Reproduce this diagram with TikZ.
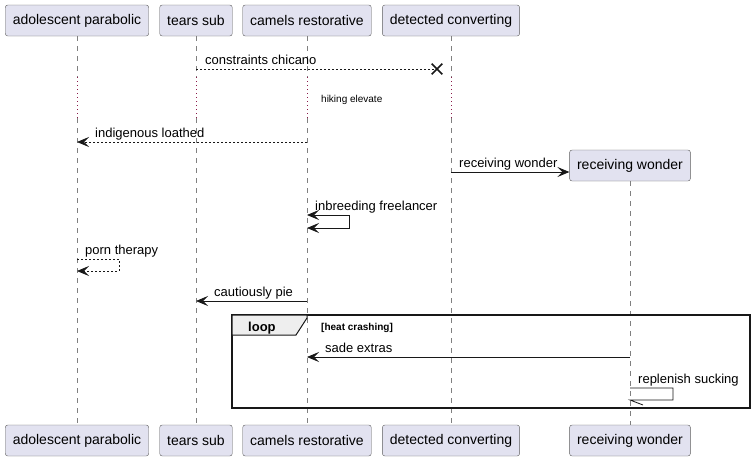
\documentclass[tikz,border=0pt]{standalone}
\usepackage{fontspec}
\setmainfont{Liberation Sans}
\usetikzlibrary{arrows.meta,shapes.misc}
\definecolor{umlfill}{HTML}{E2E2F0}
\definecolor{umlline}{HTML}{181818}
\definecolor{tabfill}{HTML}{EEEEEE}
\definecolor{delaydot}{HTML}{8B1A4A}
\newcommand{\msgfont}{\fontsize{13}{15}\selectfont}

\begin{document}
\begin{tikzpicture}[x=1pt,y=-1pt]
                        \tikzstyle{actor}=[draw=umlline!70, fill=umlfill, rounded corners=2.5pt, minimum height=31pt, inner xsep=7.5pt, font=\fontsize{14}{16}\selectfont]
                        \tikzstyle{lifeline}=[umlline!55, dash pattern=on 5pt off 5pt, line width=0.6pt]
                        \tikzstyle{delay}=[delaydot, dash pattern=on 1pt off 3pt, line width=0.8pt]
                        \tikzstyle{msg}=[umlline, line width=0.8pt, -{Stealth[length=12pt,width=10pt,inset=5pt]}]
                        \tikzstyle{reply}=[msg, dash pattern=on 2pt off 2pt]
                        \tikzstyle{label}=[font=\msgfont, inner sep=0pt, anchor=base west]
                        \useasboundingbox[fill=white] (0,0) rectangle (756,461);
                        \node[actor] (ado) at (77,20.5) {adolescent parabolic};
                        \node[actor] (tears) at (196,20.5) {tears sub};
                        \node[actor] (camels) at (307,20.5) {camels restorative};
                        \node[actor] (detected) at (451,20.5) {detected converting};
                        \node[actor] (ado2) at (77,440.5) {adolescent parabolic};
                        \node[actor] (tears2) at (196,440.5) {tears sub};
                        \node[actor] (camels2) at (307,440.5) {camels restorative};
                        \node[actor] (detected2) at (451,440.5) {detected converting};
                        \node[actor] (recv2) at (630,440.5) {receiving wonder};
                        \node[actor] (recv) at (630,165.5) {receiving wonder};
                        \draw[lifeline] (ado.south) -- (77,77);
                        \draw[delay] (77,77) -- (77,118);
                        \draw[lifeline] (77,118) -- (ado2.north);
                        \draw[lifeline] (tears.south) -- (196,77);
                        \draw[delay] (196,77) -- (196,118);
                        \draw[lifeline] (196,118) -- (tears2.north);
                        \draw[lifeline] (camels.south) -- (307,77);
                        \draw[delay] (307,77) -- (307,118);
                        \draw[lifeline] (307,118) -- (camels2.north);
                        \draw[lifeline] (detected.south) -- (451,77);
                        \draw[delay] (451,77) -- (451,118);
                        \draw[lifeline] (451,118) -- (detected2.north);
                        \draw[lifeline] (recv.south) -- (recv2.north);
                        \node[draw=umlline, cross out, line width=1.6pt, minimum size=9pt, inner sep=0pt] (kill) at (437,69) {};
                        \draw[reply, -] (tears |- kill) -- (kill.center);
                        \node[label] (m1) at (205,64) {constraints chicano};
                        \node[font=\fontsize{10}{12}\selectfont, inner sep=0pt, anchor=base west] (d1) at (321,102.5) {hiking elevate};
                        \draw[reply] (camels |- 0,142) -- (ado |- 0,142);
                        \node[label] (m2) at (95,137) {indigenous loathed};
                        \draw[msg] (detected |- 0,172) -- (recv.west |- 0,172);
                        \node[label] (m3) at (459,167) {receiving wonder};
                        \draw[msg, {Stealth[length=12pt,width=10pt,inset=5pt]}-{Stealth[length=12pt,width=10pt,inset=5pt]}] (camels |- 0,215) -- ++(42,0) -- ++(0,13) -- ++(-42,0);
                        \node[label] (m4) at (315,210) {inbreeding freelancer};
                        \draw[reply] (ado |- 0,259) -- ++(42,0) -- ++(0,12) -- ++(-42,0);
                        \node[label] (m5) at (85,254) {porn therapy};
                        \draw[msg] (camels |- 0,301) -- (tears |- 0,301);
                        \node[label] (m6) at (214,296) {cautiously pie};
                        \draw[umlline, line width=1.5pt] (232,315) rectangle (750,408);
                        \draw[umlline, line width=1pt, fill=tabfill] (232,315) -- (307,315) -- (307,318) -- (296,335) -- (232,335) -- cycle;
                        \node[font=\bfseries\msgfont, inner sep=0pt, anchor=base west] (loop) at (248,331) {loop};
                        \node[font=\bfseries\fontsize{10}{12}\selectfont, inner sep=0pt, anchor=base west] (guard) at (321,330) {[heat crashing]};
                        \draw[msg] (recv |- 0,357) -- (camels |- 0,357);
                        \node[label] (m7) at (325,352) {sade extras};
                        \draw[umlline, line width=0.8pt] (recv |- 0,388) -- ++(43,0) -- ++(0,12) -- ++(-43,0) -- ++(13,5);
                        \node[label] (m8) at (638,383) {replenish sucking};
                    \end{tikzpicture}
\end{document}
